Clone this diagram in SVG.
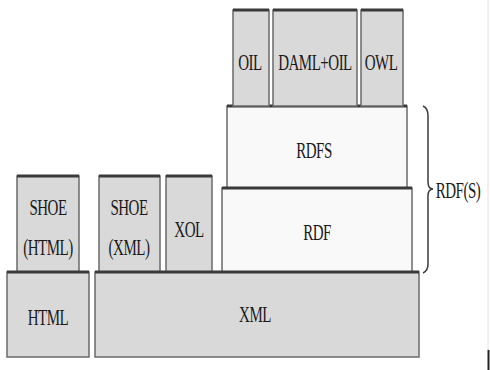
<svg xmlns="http://www.w3.org/2000/svg" width="490" height="370" viewBox="0 0 490 370">
<style>
.g{fill:#d9d9d9;stroke:#6a6a6a;stroke-width:1.5}
.w{fill:#f9f9f9;stroke:#6a6a6a;stroke-width:1.5}
.top{stroke:#3a3a3a;stroke-width:3}
text{font-family:"Liberation Serif","DejaVu Serif",serif;font-size:15px;fill:#1a1a1a;text-anchor:middle;dominant-baseline:central;letter-spacing:-0.5px}
</style>
<rect width="490" height="370" fill="#fff"/>
<g id="rdfs"><rect class="w" x="227" y="106" width="180" height="82"/><line class="top" x1="227" y1="106" x2="407" y2="106"/><text transform="translate(314,150) scale(1,1.6)">RDFS</text></g>
<g id="oil"><rect class="g" x="233" y="10" width="36" height="96"/><line class="top" x1="233" y1="10" x2="269" y2="10"/><text transform="translate(250,62) scale(1,1.6)">OIL</text></g>
<g id="damloil"><rect class="g" x="273" y="10" width="84" height="96"/><line class="top" x1="273" y1="10" x2="357" y2="10"/><text transform="translate(315,62) scale(1,1.6)">DAML+OIL</text></g>
<g id="owl"><rect class="g" x="361" y="10" width="42" height="96"/><line class="top" x1="361" y1="10" x2="403" y2="10"/><text transform="translate(381,62) scale(1,1.6)">OWL</text></g>
<g id="rdf"><rect class="w" x="222" y="188" width="190" height="84"/><line class="top" x1="222" y1="188" x2="412" y2="188"/><text transform="translate(317,232) scale(1,1.6)">RDF</text></g>
<g id="shoe-html"><rect class="g" x="17" y="176" width="62" height="96"/><line class="top" x1="17" y1="176" x2="79" y2="176"/><text transform="translate(48,207) scale(1,1.6)">SHOE</text><text transform="translate(48,247) scale(1,1.6)">(HTML)</text></g>
<g id="shoe-xml"><rect class="g" x="99" y="176" width="61" height="96"/><line class="top" x1="99" y1="176" x2="160" y2="176"/><text transform="translate(129,207) scale(1,1.6)">SHOE</text><text transform="translate(129,247) scale(1,1.6)">(XML)</text></g>
<g id="xol"><rect class="g" x="166" y="176" width="46" height="96"/><line class="top" x1="166" y1="176" x2="212" y2="176"/><text transform="translate(189,229) scale(1,1.6)">XOL</text></g>
<g id="html"><rect class="g" x="7" y="272" width="82" height="85"/><line class="top" x1="7" y1="272" x2="89" y2="272"/><text transform="translate(48,317) scale(1,1.6)">HTML</text></g>
<g id="xml"><rect class="g" x="95" y="272" width="324" height="85"/><line class="top" x1="95" y1="272" x2="419" y2="272"/><text transform="translate(255,314) scale(1,1.6)">XML</text></g>
<g id="connectors">
<path d="M423 106 Q428 108 428 116 L428 182 Q428 189 433 189 Q428 189 428 196 L428 264 Q428 271 423 273" fill="none" stroke="#3a3a3a" stroke-width="1.5"/>
<line x1="488" y1="0" x2="488" y2="350" stroke="#e2e2e2" stroke-width="1"/>
<line x1="488.5" y1="350" x2="488.5" y2="370" stroke="#222" stroke-width="2"/>
</g>
<text transform="translate(458,190) scale(1,1.6)">RDF(S)</text>
</svg>
